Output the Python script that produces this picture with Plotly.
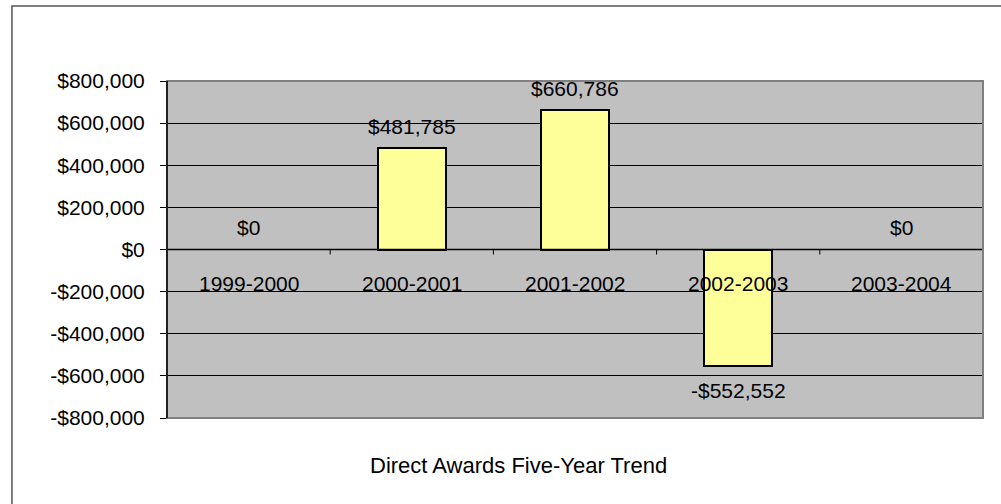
import plotly.graph_objects as go

categories = ["1999-2000", "2000-2001", "2001-2002", "2002-2003", "2003-2004"]
values = [0, 481785, 660786, -552552, 0]
tick_values = [-800000, -600000, -400000, -200000, 0, 200000, 400000, 600000, 800000]
title_text = "Direct Awards Five-Year Trend"


def money(v):
    return ("-$" if v < 0 else "$") + f"{abs(v):,.0f}"


FONT = "Arial, Liberation Sans, Arimo, sans-serif"
FS = 21

fig = go.Figure()
fig.add_trace(go.Bar(
    x=categories, y=values, width=0.42,
    marker=dict(color="#FFFF99",
                line=dict(color="#000000", width=[2 if v != 0 else 0 for v in values])),
    hoverinfo="skip",
))

ann = []
# data labels
for c, v in zip(categories, values):
    ann.append(dict(x=c, y=v, xref="x", yref="y", text=money(v), showarrow=False,
                    yshift=(-25 if v < 0 else 22), font=dict(family=FONT, size=FS, color="#000")))
# category labels near zero line
for c in categories:
    ann.append(dict(x=c, y=0, xref="x", yref="y", text=c, showarrow=False, yshift=-34,
                    font=dict(family=FONT, size=FS, color="#000")))
# bottom title
ann.append(dict(x=0.431, y=-0.14, xref="paper", yref="paper", text=title_text, showarrow=False,
                xanchor="center", yanchor="middle", font=dict(family=FONT, size=22, color="#000")))

shapes = []
# small tick marks on the category axis at zero line
for i in range(len(categories) - 1):
    shapes.append(dict(type="line", xref="x", yref="y", ysizemode="pixel", yanchor=0,
                       x0=i + 0.5, x1=i + 0.5, y0=0, y1=-5, line=dict(color="#000", width=1)))
# zero line
shapes.append(dict(type="line", xref="paper", yref="y", x0=0, x1=1, y0=0, y1=0,
                   line=dict(color="#000", width=1.5), layer="above"))
# plot area border (gray) with shadow
shapes.append(dict(type="rect", xref="paper", yref="paper", x0=0, x1=1, y0=0, y1=1,
                   line=dict(color="#808080", width=2), layer="above"))
shapes.append(dict(type="line", xref="paper", yref="paper", x0=0, x1=0, y0=0, y1=1,
                   line=dict(color="#000", width=1.5), layer="above"))
# outer chart border
shapes.append(dict(type="rect", xref="paper", yref="paper", x0=-0.19, x1=1.2, y0=-0.5, y1=1.2226,
                   line=dict(color="#555555", width=1.5), layer="below"))

fig.update_layout(
    width=1001, height=504,
    margin=dict(l=167, r=18, t=81, b=86),
    paper_bgcolor="#FFFFFF", plot_bgcolor="#C0C0C0",
    showlegend=False, bargap=0,
    annotations=ann, shapes=shapes,
    font=dict(family=FONT, size=FS, color="#000"),
)
fig.update_xaxes(type="category", range=[-0.5, 4.5], showticklabels=False, showgrid=False,
                 zeroline=False, showline=False, ticks="")
fig.update_yaxes(range=[-800000, 800000], tickvals=tick_values,
                 ticktext=[money(v) for v in tick_values],
                 showgrid=True, gridcolor="#000000", gridwidth=1, zeroline=False,
                 showline=False, ticks="outside", ticklen=6, tickcolor="#000",
                 ticklabelstandoff=11,
                 tickfont=dict(family=FONT, size=FS, color="#000"))

fig.write_html("out.html", config={"displayModeBar": False},
               post_script="document.body.style.margin='0';")
